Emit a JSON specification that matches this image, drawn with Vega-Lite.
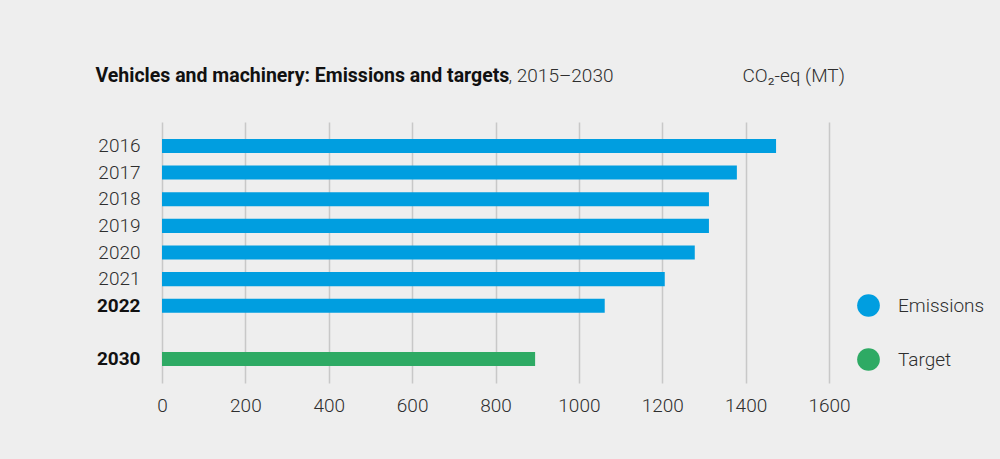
{
  "$schema": "https://vega.github.io/schema/vega-lite/v6.json",
  "width": 667,
  "height": 261,
  "autosize": {"type": "none"},
  "padding": {"left": 162, "top": 122, "right": 171, "bottom": 76},
  "background": "#eeeeee",
  "config": {"view": {"stroke": null}, "font": "Roboto"},
  "data": {
    "values": [
      {"year": "2016", "value": 1473, "series": "Emissions"},
      {"year": "2017", "value": 1379, "series": "Emissions"},
      {"year": "2018", "value": 1312, "series": "Emissions"},
      {"year": "2019", "value": 1312, "series": "Emissions"},
      {"year": "2020", "value": 1278, "series": "Emissions"},
      {"year": "2021", "value": 1206, "series": "Emissions"},
      {"year": "2022", "value": 1062, "series": "Emissions"},
      {"year": "2030", "value": 895, "series": "Target"}
    ]
  },
  "layer": [
    {
      "mark": {"type": "bar"},
      "encoding": {
        "y": {
          "field": "year",
          "type": "nominal",
          "sort": null,
          "scale": {
            "domain": ["2016", "2017", "2018", "2019", "2020", "2021", "2022", "gap", "2030"],
            "paddingInner": 0.474,
            "paddingOuter": 0.638
          },
          "axis": {
            "title": "Vehicles and machinery: Emissions and targets",
            "titleAngle": 0,
            "titleX": -67,
            "titleY": -41,
            "titleAlign": "left",
            "titleBaseline": "alphabetic",
            "titleFont": "Roboto",
            "titleFontSize": 19.5,
            "titleFontWeight": "bold",
            "titleColor": "#111111",
            "labelExpr": "datum.value == 'gap' ? '' : datum.value",
            "labelFont": "Roboto",
            "labelFontSize": 19,
            "labelPadding": 22,
            "labelFontWeight": {"condition": {"test": "datum.value == '2022' || datum.value == '2030'", "value": "bold"}, "value": 300},
            "labelColor": {"condition": {"test": "datum.value == '2022' || datum.value == '2030'", "value": "#111111"}, "value": "#2e2e2e"},
            "ticks": false,
            "domain": false,
            "grid": false
          }
        },
        "x": {
          "field": "value",
          "type": "quantitative",
          "scale": {"domain": [0, 1600], "nice": false},
          "axis": {
            "title": ", 2015–2030",
            "titleX": 346,
            "titleY": -302,
            "titleAlign": "left",
            "titleBaseline": "alphabetic",
            "titleFont": "Roboto",
            "titleFontSize": 19,
            "titleFontWeight": 300,
            "titleColor": "#2e2e2e",
            "values": [0, 200, 400, 600, 800, 1000, 1200, 1400, 1600],
            "format": "d",
            "grid": true,
            "gridColor": "#c8c8c8",
            "gridWidth": 1.5,
            "ticks": false,
            "domain": false,
            "labelFont": "Roboto",
            "labelFontSize": 19,
            "labelFontWeight": 300,
            "labelColor": "#2e2e2e",
            "labelPadding": 13,
            "labelFlush": false
          }
        },
        "color": {
          "field": "series",
          "type": "nominal",
          "scale": {"domain": ["Emissions", "Target"], "range": ["#009ee0", "#2eaa64"]},
          "legend": {
            "orient": "none",
            "legendX": 695,
            "legendY": 172,
            "title": null,
            "symbolType": "circle",
            "symbolSize": 515,
            "symbolStrokeWidth": 0,
            "symbolOpacity": 1,
            "labelFont": "Roboto",
            "labelFontSize": 19,
            "labelFontWeight": 300,
            "labelColor": "#2e2e2e",
            "labelOffset": 18,
            "rowPadding": 31,
            "padding": 0
          }
        }
      }
    },
    {
      "mark": {"type": "tick", "opacity": 0},
      "encoding": {
        "x": {
          "field": "value",
          "type": "quantitative",
          "axis": {
            "orient": "top",
            "labels": false,
            "ticks": false,
            "domain": false,
            "grid": false,
            "title": "CO₂-eq (MT)",
            "titleX": 580,
            "titleY": -41,
            "titleAlign": "left",
            "titleBaseline": "alphabetic",
            "titleFont": "Roboto",
            "titleFontSize": 19,
            "titleFontWeight": 300,
            "titleColor": "#2e2e2e"
          }
        }
      }
    }
  ],
  "resolve": {"axis": {"x": "independent"}}
}
